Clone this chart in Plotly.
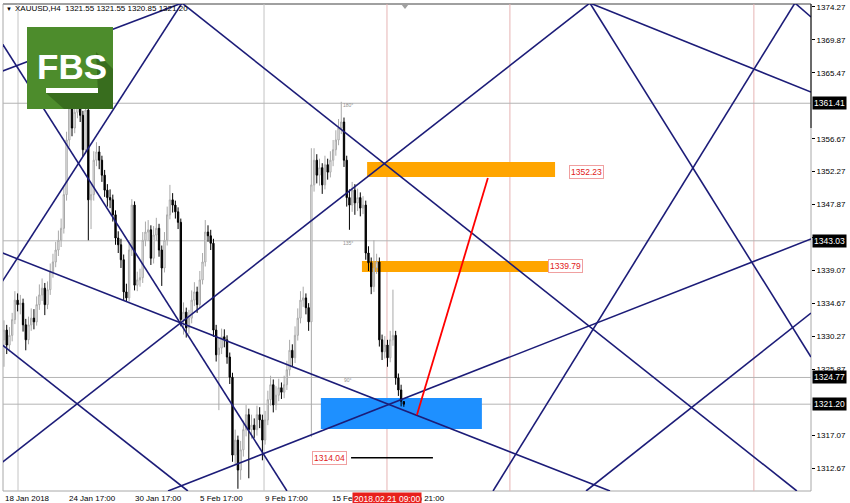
import plotly.graph_objects as go

# ---------------- data ----------------
bar_index = list(range(148))

opens = [1329.8,1331.1,1329.1,1330.4,1332.5,1335.1,1334.5,1334.7,1331.8,1329.8,
1331.8,1332.7,1332.2,1334.5,1335.8,1336.7,1334.5,1336.5,1338.9,1340.2,
1341.8,1343.1,1344.7,1349.2,1356.5,1360.8,1358.1,1360.2,1361.8,1359.8,
1355.2,1360.5,1348.5,1349.2,1353.8,1354.9,1353.8,1351.8,1349.8,1348.8,
1348.5,1346.5,1343.4,1342.5,1340.5,1336.2,1335.4,1341.8,1347.8,1337.1,
1337.8,1338.1,1343.1,1344.2,1344.5,1340.7,1343.8,1344.7,1341.8,1339.4,
1343.1,1346.5,1348.5,1347.8,1346.9,1345.5,1332.5,1333.5,1331.4,1332.7,
1335.1,1336.2,1334.5,1337.8,1340.2,1344.2,1343.7,1342.7,1331.1,1327.8,
1328.7,1330.2,1329.8,1327.5,1324.8,1314.4,1316.4,1312.4,1315.1,1317.8,
1319.8,1317.8,1318.4,1317.8,1319.8,1319.1,1316.4,1319.1,1321.8,1323.8,
1321.1,1322.4,1323.4,1322.8,1323.8,1325.8,1328.4,1327.4,1330.4,1332.7,
1335.1,1335.4,1334.1,1332.2,1350.5,1353.8,1351.8,1352.8,1350.5,1353.2,
1352.2,1353.8,1355.2,1356.5,1358.1,1358.9,1353.8,1348.8,1347.8,1349.8,
1348.1,1348.8,1347.4,1347.8,1341.4,1340.1,1336.9,1339.4,1340.2,1329.8,
1328.2,1329.1,1327.4,1329.8,1330.4,1324.7,1323.1,1321.55]

highs = [1332.4,1331.8,1331.5,1333.4,1336.3,1336.0,1335.8,1335.3,1332.6,1332.9,
1334.0,1333.9,1335.6,1337.2,1338.0,1337.4,1337.6,1340.0,1341.3,1342.9,
1344.4,1346.0,1350.4,1357.6,1362.0,1361.5,1361.6,1363.2,1362.5,1360.4,
1361.4,1361.0,1350.6,1355.0,1356.2,1355.7,1354.4,1352.5,1350.6,1349.9,
1349.2,1347.1,1344.3,1343.3,1341.2,1337.3,1342.9,1348.6,1348.3,1338.9,
1339.3,1344.2,1345.6,1345.8,1345.1,1345.0,1346.1,1345.3,1342.4,1344.2,
1347.6,1350.5,1349.4,1348.4,1347.5,1346.0,1334.8,1334.1,1333.8,1336.4,
1337.5,1336.9,1339.0,1341.4,1345.8,1345.1,1344.5,1343.3,1331.8,1330.0,
1331.3,1331.2,1330.4,1328.1,1325.4,1317.8,1317.0,1316.3,1319.0,1321.1,
1320.6,1319.8,1319.3,1321.0,1320.8,1319.8,1320.3,1323.0,1325.0,1324.5,
1323.6,1324.6,1324.1,1325.0,1327.0,1329.8,1329.2,1331.6,1334.0,1336.3,
1336.9,1336.0,1334.7,1355.4,1355.4,1354.6,1354.0,1353.4,1354.4,1354.0,
1355.0,1356.5,1357.8,1359.3,1361.6,1359.5,1354.4,1349.9,1350.9,1350.6,
1350.0,1349.5,1349.0,1348.4,1342.3,1340.8,1343.1,1341.3,1340.8,1330.5,
1330.3,1329.8,1331.0,1336.5,1331.0,1325.3,1323.8,1321.55]

lows = [1326.2,1327.9,1328.2,1329.6,1331.9,1333.6,1333.2,1330.9,1328.4,1329.2,
1331.0,1331.2,1331.7,1333.8,1335.0,1333.1,1333.9,1335.8,1338.1,1339.5,
1341.0,1342.2,1344.0,1348.4,1355.6,1357.0,1357.4,1359.4,1358.9,1354.3,
1354.6,1343.1,1344.6,1348.4,1353.0,1352.6,1350.9,1348.9,1347.6,1347.4,
1345.6,1342.5,1341.4,1339.4,1335.1,1334.9,1334.9,1341.0,1336.4,1336.3,
1336.9,1337.4,1342.3,1343.0,1339.8,1340.0,1343.0,1340.9,1337.0,1338.8,
1342.4,1345.9,1346.8,1346.0,1344.6,1331.6,1330.5,1330.1,1330.6,1332.0,
1334.3,1333.4,1334.0,1337.2,1339.6,1342.9,1341.8,1330.2,1326.9,1320.4,
1327.9,1328.8,1326.6,1323.9,1313.5,1313.2,1309.9,1311.1,1314.2,1316.9,
1311.3,1316.6,1316.7,1317.0,1318.0,1313.7,1315.8,1318.4,1321.0,1320.1,
1320.4,1321.6,1321.9,1322.0,1323.1,1325.0,1326.3,1326.7,1329.7,1332.0,
1334.2,1333.2,1331.0,1316.8,1349.6,1350.7,1350.4,1349.3,1349.9,1351.2,
1351.5,1353.0,1354.4,1355.8,1357.3,1352.9,1347.6,1344.5,1346.9,1346.5,
1347.0,1346.3,1346.6,1340.5,1339.0,1335.9,1336.2,1338.6,1328.9,1327.1,
1327.3,1326.2,1326.8,1329.0,1323.8,1322.3,1320.9,1320.85]

closes = [1331.1,1329.1,1330.4,1332.5,1335.1,1334.5,1334.7,1331.8,1329.8,1331.8,
1332.7,1332.2,1334.5,1335.8,1336.7,1334.5,1336.5,1338.9,1340.2,1341.8,
1343.1,1344.7,1349.2,1356.5,1360.8,1358.1,1360.2,1361.8,1359.8,1355.2,
1360.5,1348.5,1349.2,1353.8,1354.9,1353.8,1351.8,1349.8,1348.8,1348.5,
1346.5,1343.4,1342.5,1340.5,1336.2,1335.4,1341.8,1347.8,1337.1,1337.8,
1338.1,1343.1,1344.2,1344.5,1340.7,1343.8,1344.7,1341.8,1339.4,1343.1,
1346.5,1348.5,1347.8,1346.9,1345.5,1332.5,1333.5,1331.4,1332.7,1335.1,
1336.2,1334.5,1337.8,1340.2,1344.2,1343.7,1342.7,1331.1,1327.8,1328.7,
1330.2,1329.8,1327.5,1324.8,1314.4,1316.4,1312.4,1315.1,1317.8,1319.8,
1317.8,1318.4,1317.8,1319.8,1319.1,1316.4,1319.1,1321.8,1323.8,1321.1,
1322.4,1323.4,1322.8,1323.8,1325.8,1328.4,1327.4,1330.4,1332.7,1335.1,
1335.4,1334.1,1332.2,1350.5,1353.8,1351.8,1352.8,1350.5,1353.2,1352.2,
1353.8,1355.2,1356.5,1358.1,1358.9,1353.8,1348.8,1347.8,1349.8,1348.1,
1348.8,1347.4,1347.8,1341.4,1340.1,1336.9,1339.4,1340.2,1329.8,1328.2,
1329.1,1327.4,1329.8,1330.4,1324.7,1323.1,1321.6,1321.2]

price_ticks = [1374.27, 1369.87, 1365.47, 1356.67, 1352.27, 1347.87, 1343.47,
               1339.07, 1334.67, 1330.27, 1325.87, 1317.07, 1312.67]

date_tick_bars = [-0.3, 23.0, 47.4, 71.3, 95.2, 119.9, 143.7]
date_tick_labels = ["18 Jan 2018", "24 Jan 17:00", "30 Jan 17:00", "5 Feb 17:00",
                    "9 Feb 17:00", "15 Feb 17:00", "20 Feb 21:00"]
cursor_bar = 140.8
cursor_label = "2018.02.21 09:00"

hline_prices = [1361.41, 1343.03, 1324.77, 1321.20]
hline_labels = ["1361.41", "1343.03", "1324.77", "1321.20"]

# Gann / trend lines (bar index, price) start -> end
line_b0 = [-1.47, -1.47, 65.44, 65.44, -1.47, -1.47, 215.4, 215.4, 290.8, 290.8, 60.3, 214.0, -1.47]
line_p0 = [1369.86, 1365.58, 1374.80, 1374.80, 1341.53, 1313.21, 1374.80, 1374.80, 1374.80, 1374.80, 1309.6, 1309.6, 1329.37]
line_b1 = [104.04, 65.44, 291.5, -1.47, 222.8, 215.4, 296.7, 296.7, 179.8, 296.7, 296.7, 296.7, 67.6]
line_p1 = [1309.6, 1374.80, 1309.6, 1337.12, 1309.6, 1374.80, 1362.91, 1327.50, 1309.6, 1372.93, 1343.27, 1333.38, 1309.6]

# zones
orange_zones_b = [(133.5, 202.6), (131.6, 200.0)]
orange_zones_p = [(1351.55, 1353.56), (1338.86, 1340.33)]
blue_zone_b = (116.5, 175.7)
blue_zone_p = (1317.88, 1322.03)
target_line_b = (127.6, 157.7)
target_line_p = 1314.04
arrow_b = (151.8, 177.9)
arrow_p = (1319.75, 1351.42)

level_labels = ["1352.23", "1339.79", "1314.04"]
level_label_b = [214.0, 206.3, 119.85]
level_label_p = [1352.22, 1339.60, 1314.00]

gann_text = ["180°", "135°", "90°"]
gann_text_b = [126.5, 126.3, 126.3]
gann_text_p = [1361.2, 1342.7, 1324.4]

vline_gray_b = [5.15, 95.6]
vline_pink_b = [140.8, 186.0, 275.7]

X_RANGE = [-0.37, 296.7]
Y_RANGE = [1309.60, 1374.67]

# ---------------- figure ----------------
FONT = "Liberation Sans, Arial, sans-serif"
NAVY = "#1c1c78"
FS = 8

fig = go.Figure()

fig.add_trace(go.Candlestick(
    x=bar_index, open=opens, high=highs, low=lows, close=closes,
    increasing=dict(line=dict(color="#a9a9a9", width=1), fillcolor="#ffffff"),
    decreasing=dict(line=dict(color="#000000", width=1), fillcolor="#000000"),
    whiskerwidth=0, showlegend=False, hoverinfo="skip"))

for b0, p0, b1, p1 in zip(line_b0, line_p0, line_b1, line_p1):
    fig.add_trace(go.Scatter(x=[b0, b1], y=[p0, p1], mode="lines",
                             line=dict(color=NAVY, width=1.6),
                             showlegend=False, hoverinfo="skip"))

# target black line
fig.add_trace(go.Scatter(x=list(target_line_b), y=[target_line_p, target_line_p], mode="lines",
                         line=dict(color="#000000", width=1.6), showlegend=False, hoverinfo="skip"))
# red projection line
fig.add_trace(go.Scatter(x=list(arrow_b), y=list(arrow_p), mode="lines",
                         line=dict(color="#ff0000", width=1.8), showlegend=False, hoverinfo="skip"))

shapes = []
# plot border
shapes.append(dict(type="rect", xref="paper", yref="paper", x0=0, x1=1, y0=0, y1=1,
                   line=dict(color="#a8a8a8", width=1), layer="below"))
shapes.append(dict(type="line", xref="paper", yref="paper", x0=0, x1=1, y0=1, y1=1,
                   line=dict(color="#a0a0a0", width=2), layer="below"))
for b in vline_gray_b:
    shapes.append(dict(type="line", xref="x", yref="paper", x0=b, x1=b, y0=0, y1=1,
                       line=dict(color="#c4c4c4", width=1), layer="below"))
for b in vline_pink_b:
    shapes.append(dict(type="line", xref="x", yref="paper", x0=b, x1=b, y0=0, y1=1,
                       line=dict(color="#e6b4b4", width=1), layer="below"))
for p in hline_prices:
    shapes.append(dict(type="line", xref="paper", yref="y", x0=0, x1=1, y0=p, y1=p,
                       line=dict(color="#b4b4b4", width=1), layer="below"))
for (b0, b1), (p0, p1) in zip(orange_zones_b, orange_zones_p):
    shapes.append(dict(type="rect", xref="x", yref="y", x0=b0, x1=b1, y0=p0, y1=p1,
                       fillcolor="#ffa500", line=dict(width=0), layer="below"))
shapes.append(dict(type="rect", xref="x", yref="y", x0=blue_zone_b[0], x1=blue_zone_b[1],
                   y0=blue_zone_p[0], y1=blue_zone_p[1],
                   fillcolor="#1e90ff", line=dict(width=0), layer="below"))


def px(x):
    return (x - 3) / 808.0


def py(y):
    return (491 - y) / 487.0


# right axis black segment
shapes.append(dict(type="line", xref="paper", yref="paper", x0=1, x1=1, y0=py(128), y1=1,
                   line=dict(color="#000000", width=1)))
# small shift marker at top
shapes.append(dict(type="path", xref="paper", yref="paper",
                   path=f"M {px(401)},{py(4)} L {px(409)},{py(4)} L {px(405)},{py(9)} Z",
                   fillcolor="#a0a0a0", line=dict(width=0)))
# FBS logo
shapes.append(dict(type="rect", xref="paper", yref="paper", x0=px(27), x1=px(113), y0=py(109), y1=py(27),
                   fillcolor="#4d8c2c", line=dict(width=0)))
shapes.append(dict(type="path", xref="paper", yref="paper",
                   path=(f"M {px(96)},{py(52)} L {px(113)},{py(69)} L {px(113)},{py(109)} "
                         f"L {px(64)},{py(109)} L {px(46)},{py(93)} L {px(98)},{py(93)} Z"),
                   fillcolor="#386d1e", line=dict(width=0)))
shapes.append(dict(type="rect", xref="paper", yref="paper", x0=px(46), x1=px(98), y0=py(93), y1=py(88),
                   fillcolor="#ffffff", line=dict(width=0)))

annotations = []
# title
annotations.append(dict(xref="paper", yref="paper", x=px(4), y=py(9), xanchor="left", yanchor="middle",
                        text="▼", showarrow=False, font=dict(family=FONT, size=6, color="#000000")))
annotations.append(dict(xref="paper", yref="paper", x=px(13), y=py(9), xanchor="left", yanchor="middle",
                        text="XAUUSD,H4  1321.55 1321.55 1320.85 1321.20", showarrow=False,
                        font=dict(family=FONT, size=FS, color="#000000")))
annotations.append(dict(xref="paper", yref="paper", x=px(72), y=py(67), xanchor="center", yanchor="middle",
                        text="<b>FBS</b>", showarrow=False,
                        font=dict(family="Liberation Sans Narrow, Liberation Sans, Arial", size=35, color="#ffffff")))
# date labels
for b, t in zip(date_tick_bars, date_tick_labels):
    annotations.append(dict(xref="x", yref="paper", x=b, y=0, xanchor="left", yanchor="top", yshift=-1,
                            text=t, showarrow=False, font=dict(family=FONT, size=FS, color="#000000")))
annotations.append(dict(xref="x", yref="paper", x=cursor_bar, y=0, xanchor="center", yanchor="top", yshift=-1,
                        text=cursor_label, showarrow=False, bgcolor="#e8201c", borderpad=1,
                        font=dict(family=FONT, size=FS + 0.5, color="#ffffff")))
# horizontal line labels on axis
for p, t in zip(hline_prices, hline_labels):
    annotations.append(dict(xref="paper", yref="y", x=1, y=p, xanchor="left", yanchor="middle", xshift=1,
                            text=t, showarrow=False, bgcolor="#000000", borderpad=1,
                            font=dict(family=FONT, size=FS + 0.5, color="#ffffff")))
# level labels
for b, p, t in zip(level_label_b, level_label_p, level_labels):
    annotations.append(dict(xref="x", yref="y", x=b, y=p, xanchor="center", yanchor="middle",
                            text=t, showarrow=False, bgcolor="#ffffff", bordercolor="#f0a0a0",
                            borderwidth=1, borderpad=1,
                            font=dict(family=FONT, size=FS + 0.5, color="#e02020")))
for b, p, t in zip(gann_text_b, gann_text_p, gann_text):
    annotations.append(dict(xref="x", yref="y", x=b, y=p, xanchor="center", yanchor="middle",
                            text=t, showarrow=False, font=dict(family=FONT, size=5, color="#909090")))

fig.update_layout(
    width=850, height=503,
    margin=dict(l=3, r=39, t=4, b=12, pad=0),
    paper_bgcolor="#ffffff", plot_bgcolor="#ffffff",
    shapes=shapes, annotations=annotations,
    showlegend=False,
    xaxis=dict(range=X_RANGE, showticklabels=False, showgrid=False, zeroline=False,
               rangeslider=dict(visible=False), fixedrange=True, showline=False, ticks=""),
    yaxis=dict(range=Y_RANGE, side="right", tickvals=price_ticks,
               ticktext=[f"{v:.2f}" for v in price_ticks], ticks="outside", ticklen=3,
               tickcolor="#000000", tickfont=dict(family=FONT, size=FS, color="#000000"),
               showgrid=False, zeroline=False, showline=False, fixedrange=True),
)

fig.write_html("out.html", config={"staticPlot": True},
               post_script="document.body.style.margin='0';document.body.style.overflow='hidden';")
